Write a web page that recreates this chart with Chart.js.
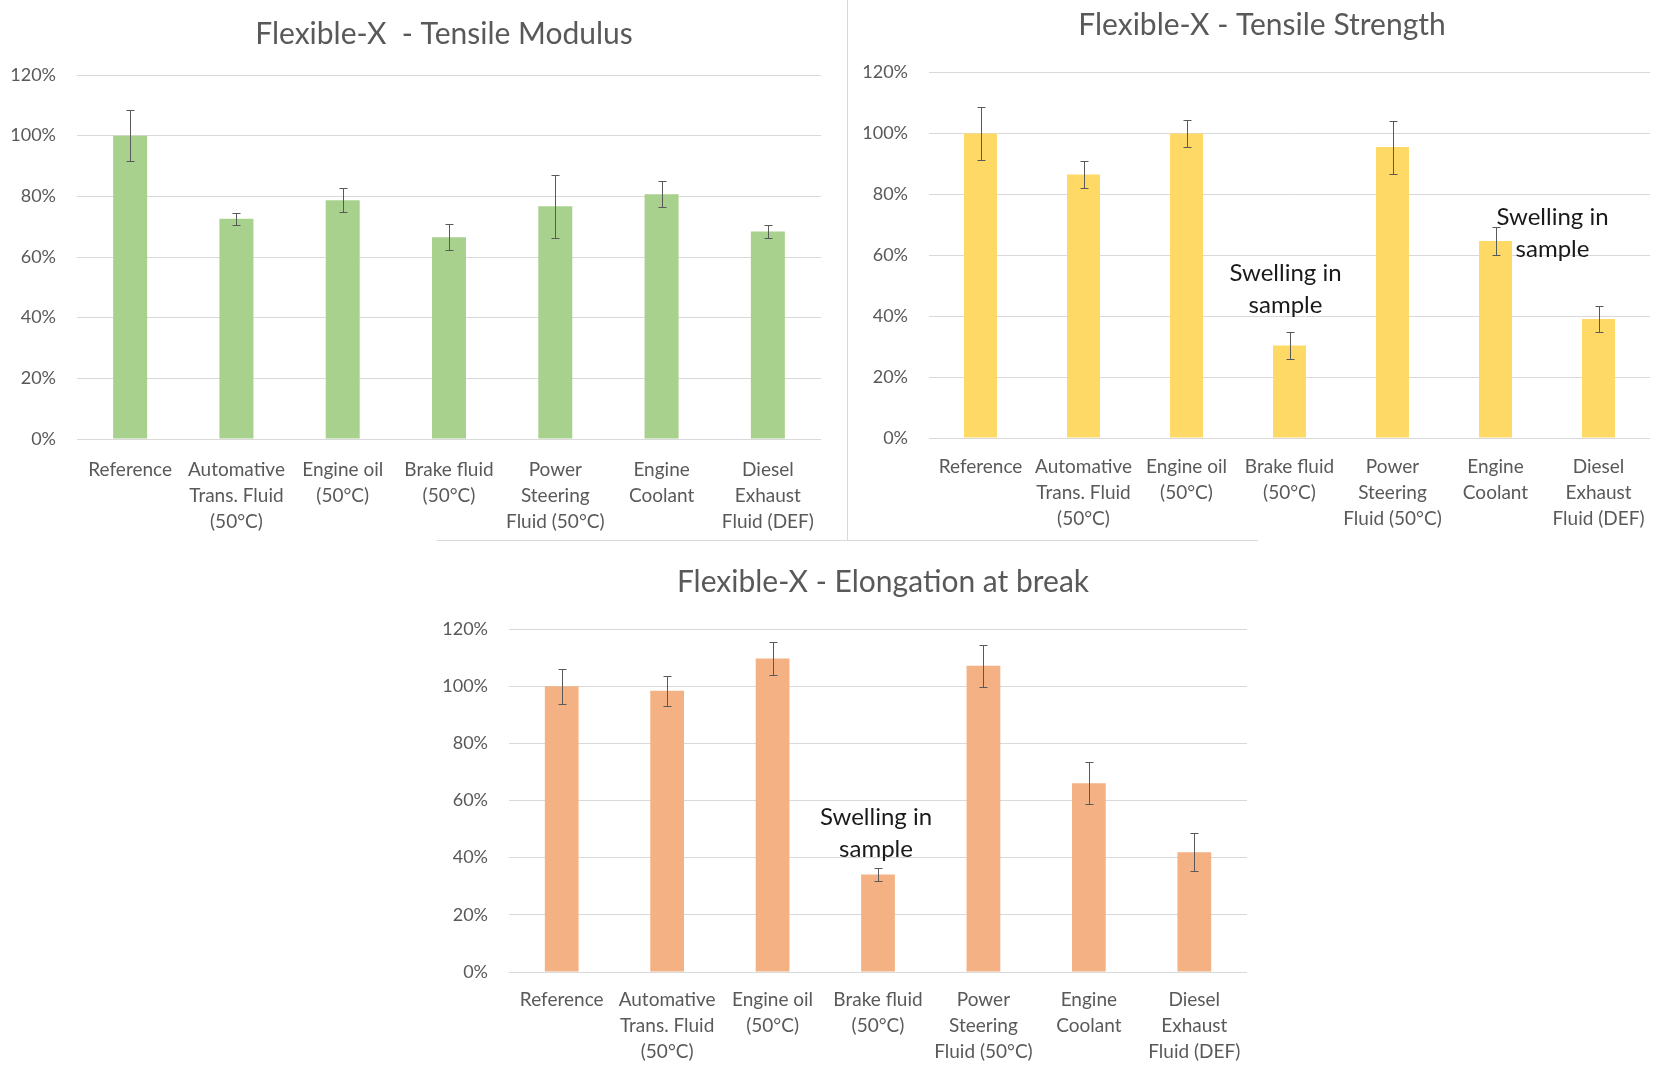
<!DOCTYPE html>
<html>
<head>
<meta charset="utf-8">
<script src="https://cdn.jsdelivr.net/npm/chart.js@4"></script>
<style>
  html, body { margin: 0; padding: 0; background: #fff; }
  body { width: 1671px; height: 1069px; position: relative; overflow: hidden; }
  .box { position: absolute; }
  .sep { position: absolute; background: #d9d9d9; }
</style>
</head>
<body>
<div class="sep" style="left:847px;top:0;width:1px;height:540px"></div>
<div class="sep" style="left:437px;top:540px;width:821px;height:1px"></div>
<div class="box" style="left:0;top:0;width:846px;height:540px"><canvas id="modulus"></canvas></div>
<div class="box" style="left:850px;top:0;width:821px;height:540px"><canvas id="strength"></canvas></div>
<div class="box" style="left:440px;top:540px;width:886px;height:529px"><canvas id="elongation"></canvas></div>
<script>
// categories shared by the three charts
const categories = [
  ['Reference'],
  ['Automative', 'Trans. Fluid', '(50°C)'],
  ['Engine oil', '(50°C)'],
  ['Brake fluid', '(50°C)'],
  ['Power', 'Steering', 'Fluid (50°C)'],
  ['Engine', 'Coolant'],
  ['Diesel', 'Exhaust', 'Fluid (DEF)']
];

// values in % of reference, with +/- error
const modulus = [100, 72.6, 78.7, 66.5, 76.7, 80.7, 68.4];
const modulusErr = [8.4, 2.0, 4.0, 4.3, 10.3, 4.2, 2.2];

const strength = [100, 86.5, 100, 30.4, 95.5, 64.7, 39.1];
const strengthErr = [8.6, 4.5, 4.4, 4.3, 8.7, 4.6, 4.3];

const elongation = [100, 98.4, 109.7, 34.1, 107.1, 66.0, 41.9];
const elongationErr = [6.1, 5.3, 5.7, 2.3, 7.4, 7.3, 6.6];

const yTicks = [0, 20, 40, 60, 80, 100, 120];
const noteText = ['Swelling in', 'sample'];

const FONT = 'Lato, "Open Sans", sans-serif';
Chart.defaults.font.family = FONT;
Chart.defaults.color = '#595959';

// error bars, "swelling" notes and the chart title
const errorBars = {
  id: 'errorBars',
  afterDatasetsDraw(chart, args, opts) {
    const { ctx, scales: { x, y } } = chart;
    const vals = chart.data.datasets[0].data;
    ctx.save();
    ctx.strokeStyle = '#595959';
    ctx.lineWidth = 1;
    vals.forEach((v, i) => {
      const e = opts.errors[i];
      const px = Math.round(x.getPixelForValue(i)) + 0.5;
      const top = Math.round(y.getPixelForValue(v + e)) + 0.5;
      const bot = Math.round(y.getPixelForValue(v - e)) + 0.5;
      ctx.beginPath();
      ctx.moveTo(px, top); ctx.lineTo(px, bot);
      ctx.moveTo(px - 4, top); ctx.lineTo(px + 4, top);
      ctx.moveTo(px - 4, bot); ctx.lineTo(px + 4, bot);
      ctx.stroke();
    });
    ctx.textAlign = 'center';
    ctx.textBaseline = 'middle';
    ctx.fillStyle = '#1a1a1a';
    ctx.font = '24px ' + FONT;
    (opts.notes || []).forEach(n => {
      const px = x.getPixelForValue(n.index) + n.dx;
      n.at.forEach((val, k) => ctx.fillText(noteText[k], px, y.getPixelForValue(val)));
    });
    ctx.fillStyle = '#595959';
    ctx.font = '30px ' + FONT;
    ctx.fillText(opts.title, opts.titleX, opts.titleY);
    ctx.restore();
  }
};

function makeChart(id, title, values, errors, color, lay, notes) {
  return new Chart(document.getElementById(id), {
    type: 'bar',
    data: {
      labels: categories,
      datasets: [{
        data: values,
        backgroundColor: color,
        borderWidth: 0,
        categoryPercentage: 1,
        barPercentage: 0.32
      }]
    },
    options: {
      responsive: true,
      maintainAspectRatio: false,
      animation: false,
      layout: { padding: { left: 0, right: lay.right, top: lay.top, bottom: 0 } },
      plugins: {
        legend: { display: false },
        tooltip: { enabled: false },
        title: { display: false },
        errorBars: { errors, notes, title, titleX: lay.titleX, titleY: lay.titleY }
      },
      scales: {
        x: {
          grid: { display: false },
          border: { display: false },
          ticks: { color: '#595959', font: { size: 19, lineHeight: 1.37 }, padding: lay.xPad, maxRotation: 0, autoSkip: false },
          afterFit(s) { s.height = lay.xHeight; }
        },
        y: {
          min: 0,
          max: 120,
          afterBuildTicks(s) { s.ticks = yTicks.map(v => ({ value: v })); },
          grid: { color: '#d9d9d9', drawTicks: false, lineWidth: 1 },
          border: { display: false },
          ticks: { color: '#595959', font: { size: 18 }, padding: 21, callback: v => v + '%' },
          afterFit(s) { s.width = lay.yWidth; }
        }
      }
    },
    plugins: [errorBars]
  });
}

makeChart('modulus', 'Flexible-X  - Tensile Modulus', modulus, modulusErr, '#a9d18e',
  { right: 25, top: 75, xHeight: 101, yWidth: 77, xPad: 10, titleX: 444, titleY: 34 }, []);

makeChart('strength', 'Flexible-X - Tensile Strength', strength, strengthErr, '#ffd966',
  { right: 21, top: 72.5, xHeight: 102, yWidth: 79, xPad: 8, titleX: 412, titleY: 25 },
  [{ index: 3, dx: -4, at: [54.2, 43.7] }, { index: 5, dx: 57, at: [72.6, 62.0] }]);

makeChart('elongation', 'Flexible-X - Elongation at break', elongation, elongationErr, '#f4b183',
  { right: 79, top: 89, xHeight: 97, yWidth: 69, xPad: 7, titleX: 443, titleY: 42 },
  [{ index: 3, dx: -2, at: [54.2, 43.0] }]);
</script>
</body>
</html>
